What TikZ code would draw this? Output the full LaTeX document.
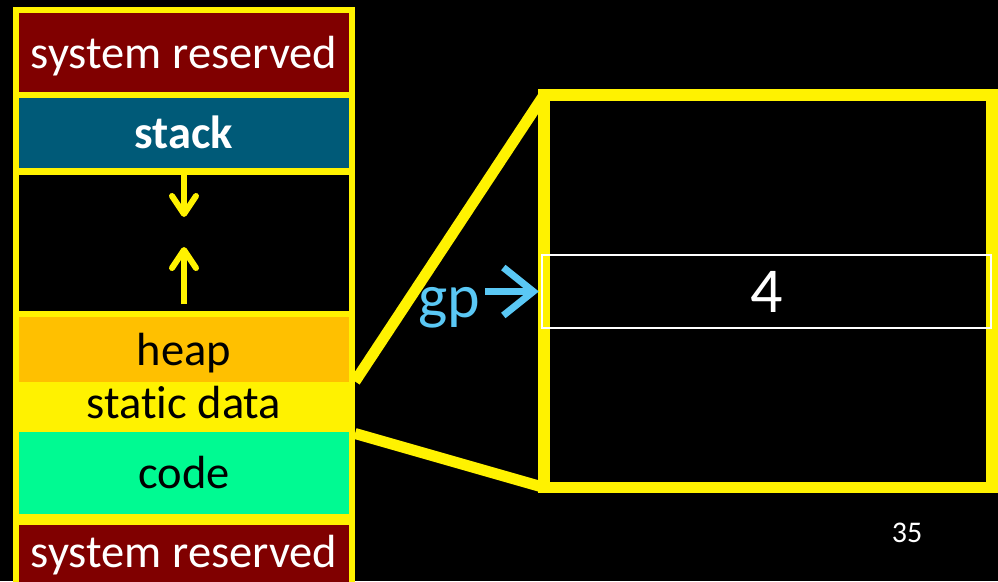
\documentclass[tikz,border=0pt]{standalone}
\usepackage{fontspec}
\setmainfont{Carlito}[Ligatures=NoCommon]
\usetikzlibrary{arrows.meta}

\definecolor{sysred}{RGB}{128,0,0}
\definecolor{stackblue}{RGB}{0,90,120}
\definecolor{heaporange}{RGB}{255,192,0}
\definecolor{codegreen}{RGB}{0,250,146}
\definecolor{gpblue}{RGB}{90,200,245}

\tikzset{
  seg/.style={rectangle, inner sep=0pt, outer sep=0pt, minimum width=330pt,
    text height=37pt, text depth=6pt, font=\fontsize{46.5}{50}\selectfont},
  growarrow/.style={yellow, line width=6pt, -{Straight Barb[length=18pt,width=24pt,round]}},
  zoomline/.style={yellow, line width=11pt}
}

\begin{document}
\begin{tikzpicture}[x=1pt,y=-1pt]
\clip (0,0) rectangle (998,581);
\fill[black] (0,0) rectangle (998,581);

% pomnilnik
\fill[yellow] (13,7) rectangle (355,590);
\node[seg, fill=sysred, text=white, minimum height=79pt] (systop) at (184,52.5) {system reserved};
\node[seg, fill=stackblue, text=white, minimum height=70pt, font=\fontsize{46.5}{50}\selectfont\bfseries] (stack) at (184,133) {stack};
\node[seg, fill=black, minimum height=136pt] (free) at (184,243) {};
\node[seg, fill=heaporange, minimum height=66pt] (heap) at (184,350) {heap};
\node[seg, fill=yellow, minimum width=342pt, minimum height=49pt, text depth=15pt] (static) at (184,407.5) {static data};
\node[seg, fill=codegreen, minimum height=82pt] (code) at (184,473) {code};
\node[seg, fill=sysred, text=white, minimum height=60pt, text depth=13pt] (sysbot) at (184,555) {system reserved};

% pomozna vozlisca
\coordinate (down) at (184,217);
\coordinate (upfrom) at (184,304);
\coordinate (up) at (184,247);

\draw[growarrow] (stack.south) -- (down);
\draw[growarrow] (upfrom) -- (up);

% povecava
\node[draw=yellow, line width=11.5pt, inner sep=0pt, outer sep=0pt, minimum width=448pt, minimum height=392.5pt] (zoom) at (768,291.25) {};
\draw[zoomline] (static.north east) -- (zoom.north west);
\draw[zoomline] (static.south east) -- (zoom.south west);

\node[draw=white, line width=1.2pt, text=white, minimum width=449pt, minimum height=73pt, font=\fontsize{64}{66}\selectfont] (cell) at (766.5,291.5) {4};

\node[text=gpblue, inner sep=2pt, anchor=base west, font=\fontsize{62}{64}\selectfont] (gp) at (416,317) {gp};
\draw[gpblue, line width=7pt, -{Straight Barb[length=30pt,width=48pt]}, shorten <=3pt, shorten >=2.5pt] (gp.east |- cell.west) -- (cell.west);

\node[text=white, font=\fontsize{30}{32}\selectfont] (pagenum) at (907,533) {35};
\end{tikzpicture}
\end{document}
